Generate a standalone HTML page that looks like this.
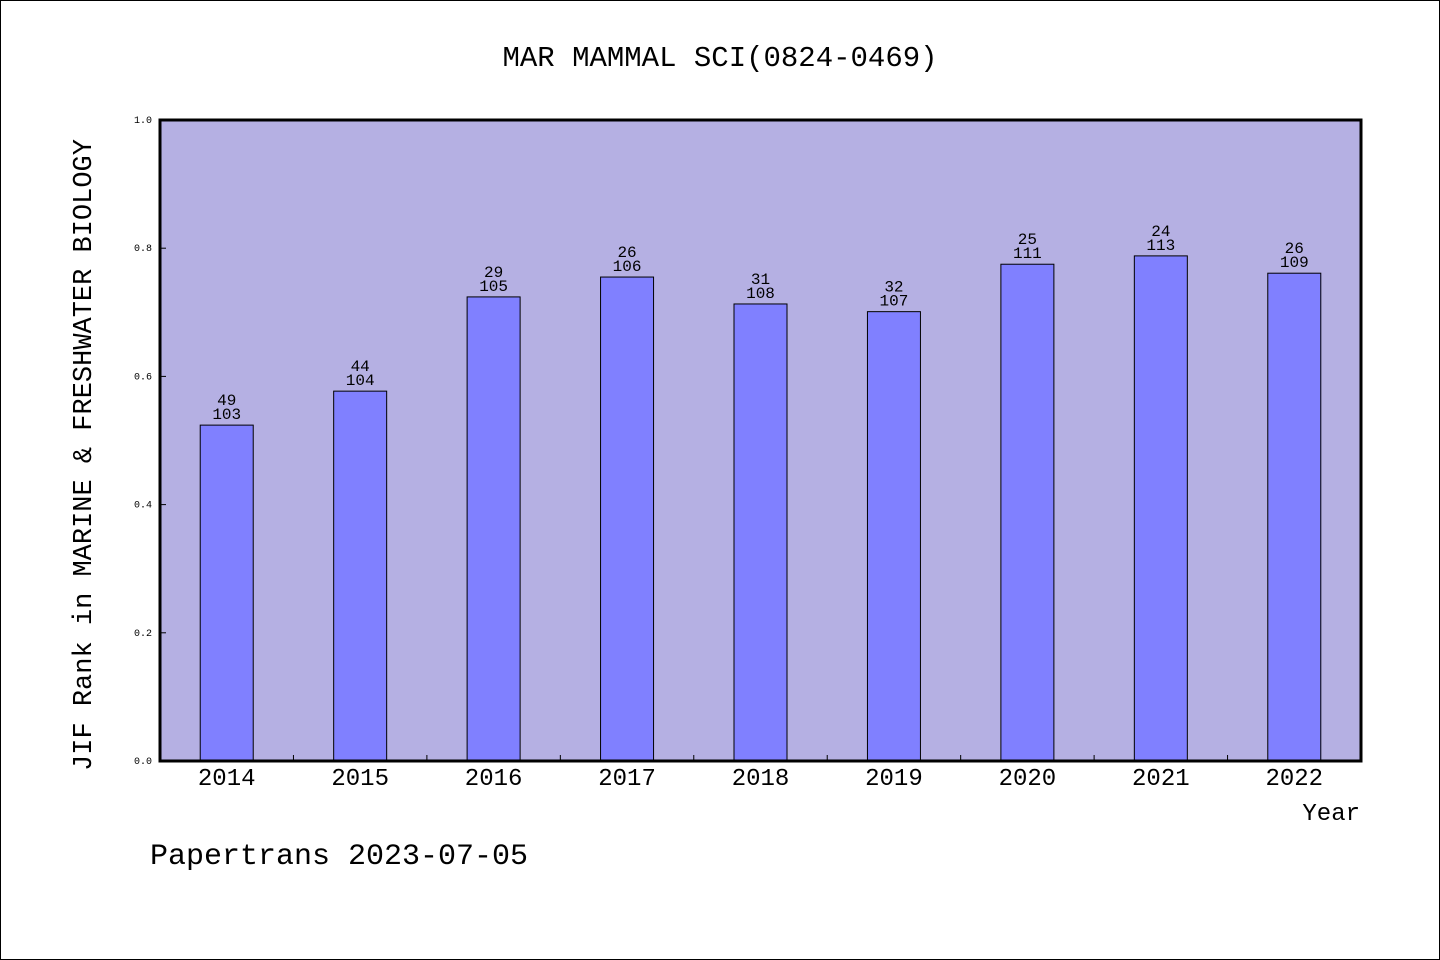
<!DOCTYPE html>
<html><head><meta charset="utf-8"><style>
html,body{margin:0;padding:0;background:#fff}
svg{display:block}
text{font-family:"Liberation Mono","WenQuanYi Zen Hei",monospace;fill:#000}
</style></head><body>
<svg id="chart" width="1440" height="960" xmlns="http://www.w3.org/2000/svg">
<rect x="0.5" y="0.5" width="1439" height="959" fill="#fff" stroke="#000"/>
<text x="720" y="66" text-anchor="middle" font-size="29">MAR MAMMAL SCI(0824-0469)</text>
<rect x="160" y="120" width="1201" height="641" fill="#b5b0e3"/>
<g id="bars"></g>
<g id="axes"></g>
<rect x="160" y="120" width="1201" height="641" fill="none" stroke="#000" stroke-width="3"/>
<text transform="translate(91,455) rotate(-90)" text-anchor="middle" font-size="27">JIF Rank in MARINE &amp; FRESHWATER BIOLOGY</text>
<text x="1360" y="820" text-anchor="end" font-size="24">Year</text>
<text x="150" y="864" font-size="30">Papertrans 2023-07-05</text>
</svg>
<script>
const categories = ["2014","2015","2016","2017","2018","2019","2020","2021","2022"];
const ranks = [49,44,29,26,31,32,25,24,26];
const totals = [103,104,105,106,108,107,111,113,109];
const values = [0.524,0.577,0.724,0.755,0.713,0.701,0.775,0.788,0.761];
const yTicks = ["0.0","0.2","0.4","0.6","0.8","1.0"];

const NS="http://www.w3.org/2000/svg";
const X0=160,X1=1361,Y0=761,Y1=120;
const slot=(X1-X0)/categories.length;
const xc=i=>X0+slot*(i+0.5);
const y=v=>Y0-(v-0)/(1-0)*(Y0-Y1);
function mk(tag,attrs,parent,txt){const e=document.createElementNS(NS,tag);for(const k in attrs)e.setAttribute(k,attrs[k]);if(txt!==undefined)e.textContent=txt;parent.appendChild(e);return e;}
const bars=document.getElementById('bars'),axes=document.getElementById('axes');
const bw=53;
values.forEach((v,i)=>{
  const r=mk('rect',{x:xc(i)-bw/2,y:y(v),width:bw,height:Y0-y(v),fill:'#8080ff',stroke:'#000','stroke-width':1},bars);
  
  
  const t1=mk('text',{x:xc(i),y:y(v)-20,'text-anchor':'middle','font-size':16},bars,String(ranks[i]));
  
  
  const t2=mk('text',{x:xc(i),y:y(v)-6,'text-anchor':'middle','font-size':16},bars,String(totals[i]));
  
  
  const xl=mk('text',{x:xc(i),y:785,'text-anchor':'middle','font-size':24},axes,categories[i]);
  
  
  if(i>0){const tk=mk('line',{x1:X0+slot*i,x2:X0+slot*i,y1:Y0,y2:Y0-6,stroke:'#000'},axes);
  
  }
});
yTicks.forEach(s=>{
  const v=parseFloat(s);
  const tk=mk('line',{x1:X0,x2:X0+6,y1:y(v),y2:y(v),stroke:'#000'},axes);
  
  
  const tl=mk('text',{x:152,y:y(v)+3,'text-anchor':'end','font-size':10},axes,s);
  
  
});
</script>
</body></html>
